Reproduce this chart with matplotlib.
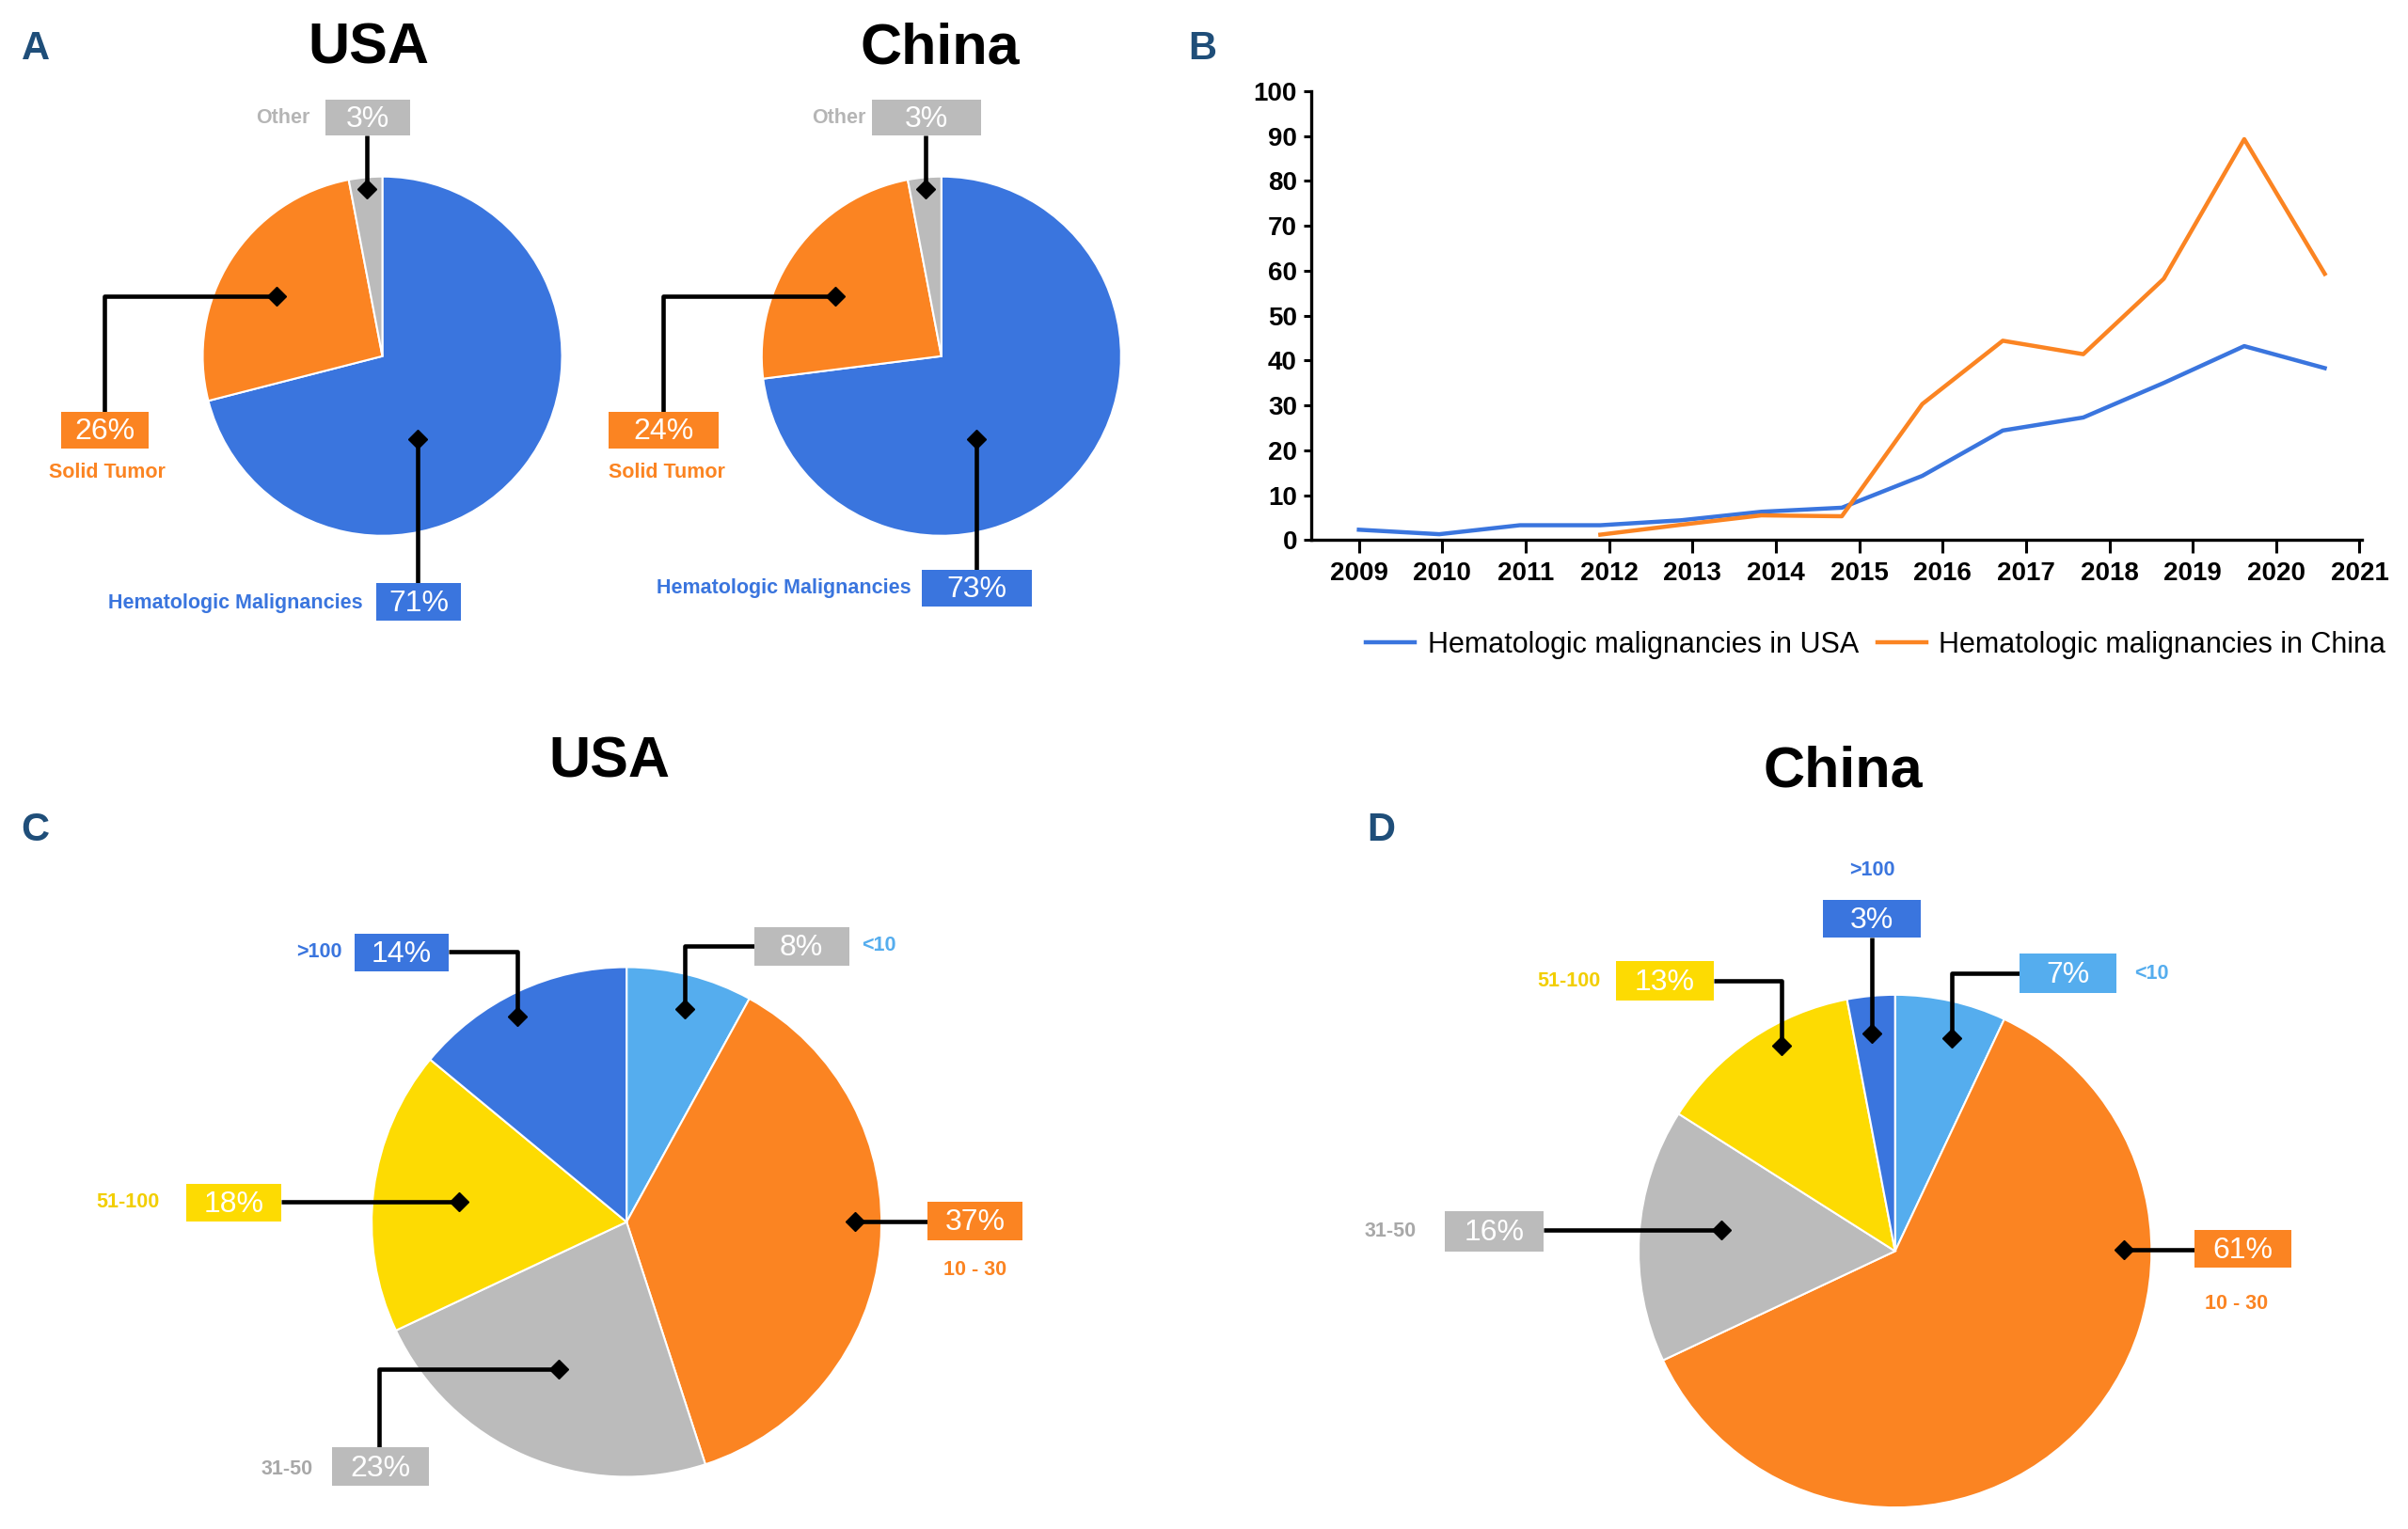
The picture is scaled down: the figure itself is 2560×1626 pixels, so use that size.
import numpy as np
import matplotlib
matplotlib.use('Agg')
import matplotlib.pyplot as plt
from matplotlib.patches import Rectangle

plt.rcParams['font.family'] = ['Liberation Sans Narrow', 'Liberation Sans', 'DejaVu Sans']

# ---- data ----
years = list(range(2009, 2022))
usa_counts = [2.3, 1.3, 3.3, 3.3, 4.4, 6.3, 7.2, 14.3, 24.4, 27.3, 35.0, 43.2, 38.3]
china_counts = [np.nan, np.nan, np.nan, 1.2, 3.4, 5.5, 5.3, 30.3, 44.4, 41.4, 58.2, 89.3, 59.3]

type_labels = ['Hematologic Malignancies', 'Solid Tumor', 'Other']
type_usa = [71, 26, 3]
type_china = [73, 24, 3]

size_labels = ['<10', '10 - 30', '31-50', '51-100', '>100']
size_usa = [8, 37, 23, 18, 14]
size_china = [7, 61, 16, 13, 3]

BLUE = '#3A75DE'
ORANGE = '#FB8422'
GREY = '#BBBBBB'
LIGHT = '#55ADEE'
YELLOW = '#FDDB02'
NAVY = '#1F4E79'
type_colors = [BLUE, ORANGE, GREY]
type_text = [BLUE, ORANGE, '#B5B5B5']
size_colors = [LIGHT, ORANGE, GREY, YELLOW, BLUE]
size_text = [LIGHT, ORANGE, '#A8A8A8', '#F2CE00', BLUE]

# overlay in "screen" units (y down) for pies and callouts
W, H = 1568, 996
fig = plt.figure(figsize=(25.6, 16.26), dpi=100)
ov = fig.add_axes([0, 0, 1, 1])


def draw_pie(values, colors, center, radius):
    # y axis is inverted, so start at -90 and go "counterclock" -> visually clockwise from top
    ov.pie(values, colors=colors, center=center, radius=radius, startangle=-90,
           counterclock=True, wedgeprops=dict(edgecolor='white', linewidth=1.5))


def callout(path, box, box_color, value, label, label_xy, label_color, ha):
    xs, ys = zip(*path)
    ov.plot(xs, ys, color='black', lw=3.3, solid_capstyle='butt', zorder=4)
    ov.plot(xs[-1], ys[-1], marker='D', color='black', ms=10, zorder=5)
    x0, y0, x1, y1 = box
    ov.add_patch(Rectangle((x0, y0), x1 - x0, y1 - y0, facecolor=box_color,
                           edgecolor='none', zorder=5))
    ov.text((x0 + x1) / 2, (y0 + y1) / 2 + 1, f'{value}%', color='white', fontsize=23,
            ha='center', va='center', zorder=6)
    ov.text(label_xy[0], label_xy[1], label, color=label_color, fontsize=15.5,
            fontweight='bold', ha=ha, va='center')


# panel A
draw_pie(type_usa, type_colors, (249, 232), 117)
draw_pie(type_china, type_colors, (613, 232), 117)

a_usa = [
    ([(272, 380), (272, 286)], (245, 380, 300, 404), (236, 393), 'right'),
    ([(68, 268), (68, 193), (180, 193)], (40, 268, 97, 292), (70, 308), 'center'),
    ([(239, 88), (239, 123)], (212, 65, 267, 88), (202, 77), 'right'),
]
a_china = [
    ([(636, 371), (636, 286)], (600, 371, 672, 395), (593, 383), 'right'),
    ([(432, 268), (432, 193), (544, 193)], (396, 268, 468, 292), (434, 308), 'center'),
    ([(603, 88), (603, 123)], (568, 65, 639, 88), (564, 77), 'right'),
]
for spec, vals in [(a_usa, type_usa), (a_china, type_china)]:
    for (path, box, lxy, ha), v, lab, bc, tc in zip(spec, vals, type_labels, type_colors, type_text):
        callout(path, box, bc, v, lab, lxy, tc, ha)

# panel C
draw_pie(size_usa, size_colors, (408, 796), 166)
c_usa = [
    ([(491, 616), (446, 616), (446, 657)], (491, 604, 553, 629), GREY, (561, 616), 'left'),
    ([(604, 796), (557, 796)], (604, 783, 666, 808), ORANGE, (635, 827), 'center'),
    ([(247, 943), (247, 892), (364, 892)], (216, 943, 279, 968), GREY, (204, 957), 'right'),
    ([(183, 783), (299, 783)], (121, 771, 183, 796), YELLOW, (104, 783), 'right'),
    ([(292, 620), (337, 620), (337, 662)], (231, 608, 292, 633), BLUE, (223, 620), 'right'),
]
for (path, box, bc, lxy, ha), v, lab, tc in zip(c_usa, size_usa, size_labels, size_text):
    callout(path, box, bc, v, lab, lxy, tc, ha)

# panel D
draw_pie(size_china, size_colors, (1234, 815), 167)
d_china = [
    ([(1315, 634), (1271, 634), (1271, 676)], (1315, 621, 1378, 647), LIGHT, (1390, 634), 'left'),
    ([(1429, 814), (1383, 814)], (1429, 801, 1492, 826), ORANGE, (1456, 849), 'center'),
    ([(1005, 801), (1121, 801)], (941, 789, 1005, 815), GREY, (922, 802), 'right'),
    ([(1116, 639), (1160, 639), (1160, 681)], (1052, 626, 1116, 652), YELLOW, (1042, 639), 'right'),
    ([(1219, 611), (1219, 673)], (1187, 586, 1251, 611), BLUE, (1219, 567), 'center'),
]
for (path, box, bc, lxy, ha), v, lab, tc in zip(d_china, size_china, size_labels, size_text):
    callout(path, box, bc, v, lab, lxy, tc, ha)

# titles and panel letters
for x, y, t in [(240, 32, 'USA'), (612, 32, 'China'), (397, 497, 'USA'), (1200, 503, 'China')]:
    ov.text(x, y, t, fontsize=44, fontweight='bold', ha='center', va='center', color='black')
for x, y, t in [(23, 32, 'A'), (783, 32, 'B'), (23, 541, 'C'), (899, 541, 'D')]:
    ov.text(x, y, t, fontsize=30, fontweight='bold', ha='center', va='center', color=NAVY)

ov.set_xlim(0, W)
ov.set_ylim(H, 0)
ov.set_aspect('auto')
ov.axis('off')

# panel B: line chart
lx = fig.add_axes([0.5446, 0.6468, 0.4362, 0.2936])
x = np.arange(len(years))
lx.plot(x, usa_counts, color=BLUE, lw=3.2, label='Hematologic malignancies in USA')
lx.plot(x, china_counts, color=ORANGE, lw=3.2, label='Hematologic malignancies in China')
tick_step = 1.036  # year ticks are spaced slightly wider than the data points
lx.set_xticks(x * tick_step, [str(y) for y in years])
lx.set_yticks(range(0, 101, 10))
lx.set_xlim(-0.59, 12.46)
lx.set_ylim(0, 100)
for s in ['top', 'right']:
    lx.spines[s].set_visible(False)
for s in ['left', 'bottom']:
    lx.spines[s].set_linewidth(2.4)
lx.tick_params(axis='x', length=10, width=2.2, labelsize=20, pad=6)
lx.tick_params(axis='y', length=6, width=2.2, labelsize=20, pad=5)
for lab in lx.get_xticklabels() + lx.get_yticklabels():
    lab.set_fontweight('bold')
lx.patch.set_alpha(0)

fig.legend(loc='center', bbox_to_anchor=(0.779, 0.578), ncol=2, frameon=False,
           fontsize=22, handlelength=1.7, columnspacing=0.65, handletextpad=0.45)

fig.savefig('out.png', dpi=100)
